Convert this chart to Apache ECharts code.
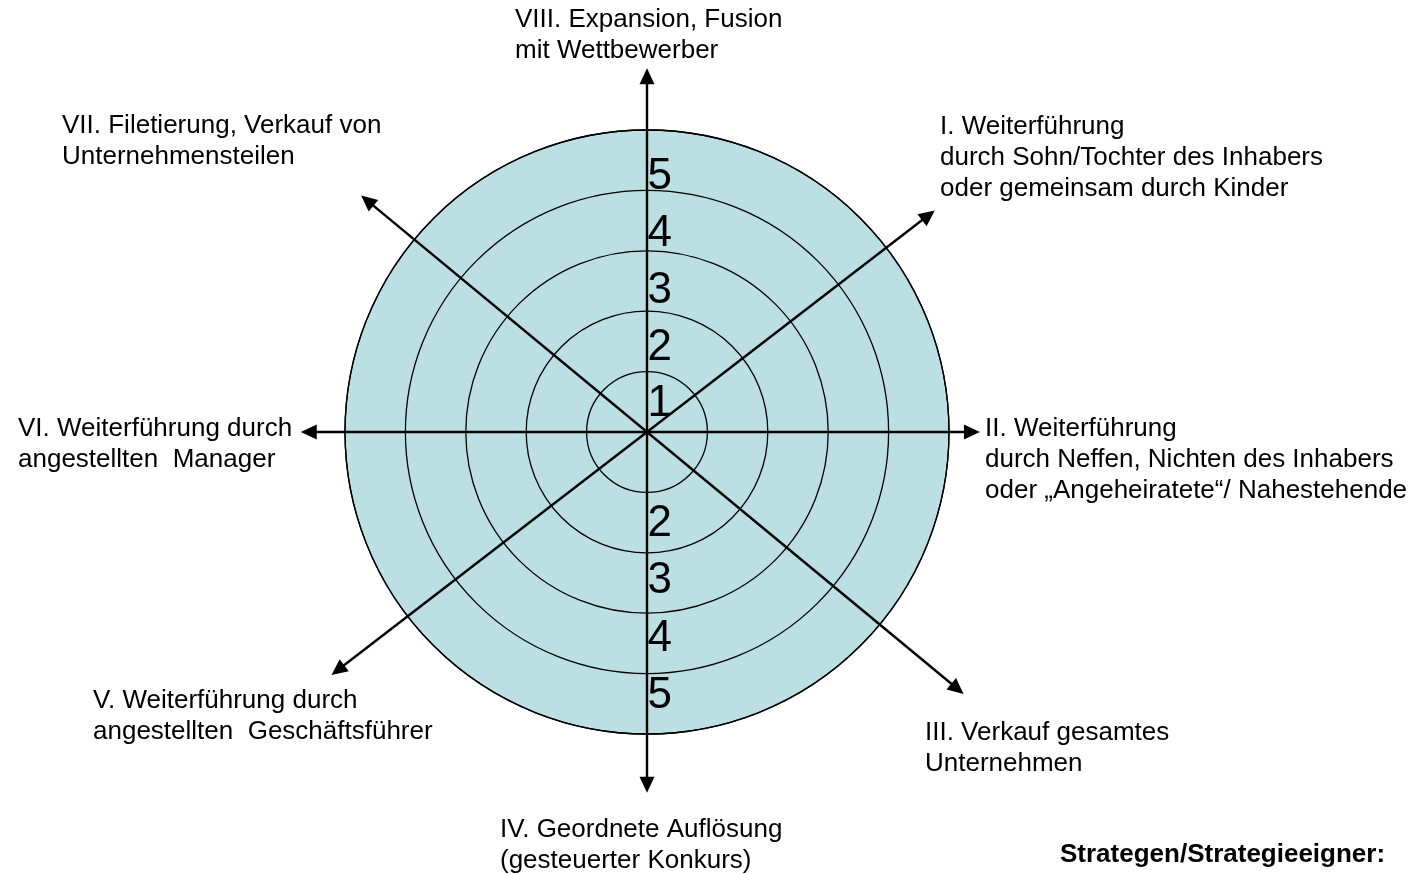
<!DOCTYPE html>
<html>
<head>
<meta charset="utf-8">
<script src="https://cdn.jsdelivr.net/npm/echarts@6/dist/echarts.min.js"></script>
<style>
html,body{margin:0;padding:0;background:#fff;}
#chart{width:1418px;height:874px;}
</style>
</head>
<body>
<div id="chart"></div>
<script>
// ---- data ----
// axis directions (degrees, counter-clockwise from east) and arrow lengths (in ring units)
const axisAngles  = [0, 37.6, 90, 140.4, 180, 217.6, 270, 320.4];
const axisLengths = [5.38, 5.88, 5.89, 6.01, 5.60, 6.46, 5.84, 6.67];
// rating scale rings
const ringMax = 5;
// tick labels along the vertical axis
const topTicks = ['1', '2', '3', '4', '5'];
const bottomTicks = ['2', '3', '4', '5'];
// category labels (strategies)
const strategyLabels = [
  ['VIII. Expansion, Fusion', 'mit Wettbewerber'],
  ['VII. Filetierung, Verkauf von', 'Unternehmensteilen'],
  ['I. Weiterführung', 'durch Sohn/Tochter des Inhabers', 'oder gemeinsam durch Kinder'],
  ['VI. Weiterführung durch', 'angestellten  Manager'],
  ['II. Weiterführung', 'durch Neffen, Nichten des Inhabers', 'oder „Angeheiratete“/ Nahestehende'],
  ['V. Weiterführung durch', 'angestellten  Geschäftsführer'],
  ['III. Verkauf gesamtes', 'Unternehmen'],
  ['IV. Geordnete Auflösung', '(gesteuerter Konkurs)']
];
const footnote = 'Strategen/Strategieeigner:';

// ---- layout ----
const CX = 647, CY = 432, UNIT = 60.4;
const labelPos = [[515, 20], [62, 126], [940, 127], [18, 429], [985, 429], [93, 701], [925, 733], [500, 830]];
const FONT = '"Liberation Sans", Arial, sans-serif';

const arrowMax = 7;
const markData = axisAngles.map((a, i) => [
  { coord: [0, a] },
  { coord: [axisLengths[i], a] }
]);

const topData = topTicks.map(t => { const n = +t; return { name: t, value: [0.94 * n - 0.48, 90] }; });
const botData = bottomTicks.map(t => { const n = +t; return { name: t, value: [0.95 * n - 0.38, 270] }; });

const graphics = strategyLabels.map((lines, i) => ({
  type: 'text',
  x: labelPos[i][0],
  y: labelPos[i][1] - 15.5,
  silent: true,
  style: {
    text: lines.join('\n'),
    font: '26px ' + FONT,
    lineHeight: 31,
    fill: '#000',
    align: 'left',
    verticalAlign: 'top'
  }
}));
graphics.push({
  type: 'text', x: 1060, y: 855 - 15.5, silent: true,
  style: { text: footnote, font: 'bold 26px ' + FONT, lineHeight: 31, fill: '#000', align: 'left', verticalAlign: 'top' }
});

const hiddenAngle = (pi) => ({
  polarIndex: pi, type: 'value', min: 0, max: 360, startAngle: 0, clockwise: false,
  axisLine: { show: false }, axisTick: { show: false }, axisLabel: { show: false },
  splitLine: { show: false }, splitArea: { show: false }
});

const chart = echarts.init(document.getElementById('chart'), null, { renderer: 'canvas' });
chart.setOption({
  animation: false,
  backgroundColor: '#fff',
  polar: [
    { center: [CX, CY], radius: UNIT * ringMax },   // rings
    { center: [CX, CY], radius: UNIT * arrowMax },  // arrows
    { center: [CX, CY], radius: UNIT * ringMax }    // fill
  ],
  angleAxis: [
    {
      polarIndex: 0, type: 'value', min: 0, max: 360, startAngle: 0, clockwise: false, z: 5,
      axisLine: { show: true, lineStyle: { color: '#000', width: 1.3 } },
      axisTick: { show: false }, axisLabel: { show: false },
      splitLine: { show: false }, splitArea: { show: false }
    },
    hiddenAngle(1),
    Object.assign(hiddenAngle(2), { z: 0 })
  ],
  radiusAxis: [
    {
      polarIndex: 0, type: 'value', min: 0, max: ringMax, interval: 1, z: 5,
      axisLine: { show: false }, axisTick: { show: false }, axisLabel: { show: false },
      splitLine: { show: true, lineStyle: { color: '#000', width: 1.3 } },
      splitArea: { show: false }
    },
    {
      polarIndex: 1, type: 'value', min: 0, max: arrowMax, interval: 1,
      axisLine: { show: false }, axisTick: { show: false }, axisLabel: { show: false },
      splitLine: { show: false }, splitArea: { show: false }
    },
    {
      polarIndex: 2, type: 'value', min: 0, max: ringMax, interval: 1, z: 0,
      axisLine: { show: false }, axisTick: { show: false }, axisLabel: { show: false },
      splitLine: { show: false },
      splitArea: { show: true, areaStyle: { color: ['#BBDFE3'] } }
    }
  ],
  series: [
    {
      type: 'line', coordinateSystem: 'polar', polarIndex: 1, data: [],
      silent: true, z: 10,
      markLine: {
        silent: true,
        symbol: ['none', 'triangle'],
        symbolSize: [15, 16],
        label: { show: false },
        lineStyle: { color: '#000', width: 2.4, type: 'solid' },
        emphasis: { disabled: true },
        data: markData
      }
    },
    {
      type: 'scatter', coordinateSystem: 'polar', polarIndex: 0,
      symbol: 'circle', symbolSize: 1, silent: true, z: 11,
      itemStyle: { color: 'rgba(0,0,0,0)' },
      label: { show: true, position: 'right', distance: 0, formatter: '{b}', fontSize: 44, fontFamily: FONT, color: '#000', opacity: 1 },
      data: topData.concat(botData)
    }
  ],
  graphic: graphics
});
</script>
</body>
</html>
